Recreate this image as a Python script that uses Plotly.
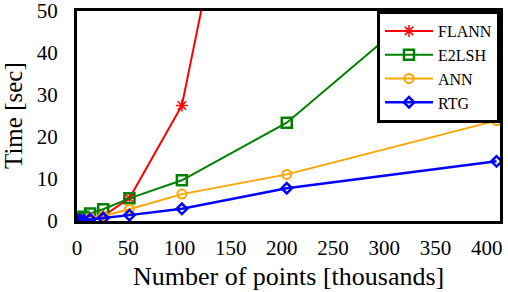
import plotly.graph_objects as go

x_points = [1.6, 3.2, 6.4, 12.8, 25.6, 51.2, 102.4, 204.8, 409.6]
flann = [0.1, 0.2, 0.4, 0.6, 1.2, 5.4, 27.5, 150.0, 600.0]
e2lsh = [0.4, 0.6, 1.0, 1.8, 2.8, 5.4, 9.7, 23.4, 65.7]
ann = [0.1, 0.2, 0.4, 0.7, 1.2, 2.8, 6.4, 11.1, 23.9]
rtg = [0.05, 0.1, 0.2, 0.4, 0.7, 1.4, 2.9, 7.8, 14.2]

x_ticks = [0, 50, 100, 150, 200, 250, 300, 350, 400]
y_ticks = [0, 10, 20, 30, 40, 50]

font = "'Times New Roman', 'Liberation Serif', 'DejaVu Serif', serif"

fig = go.Figure()
fig.add_trace(go.Scatter(x=x_points, y=flann, name="FLANN", mode="lines+markers",
                         line=dict(color="#ff0000", width=2),
                         marker=dict(symbol="asterisk-open", size=10, line=dict(color="#ff0000", width=1.5))))
fig.add_trace(go.Scatter(x=x_points, y=e2lsh, name="E2LSH", mode="lines+markers",
                         line=dict(color="#008000", width=2),
                         marker=dict(symbol="square-open", size=10, color="#008000", line=dict(color="#008000", width=2.5))))
fig.add_trace(go.Scatter(x=x_points, y=ann, name="ANN", mode="lines+markers",
                         line=dict(color="#ffa500", width=2),
                         marker=dict(symbol="circle-open", size=9, color="#ffa500", line=dict(color="#ffa500", width=2))))
fig.add_trace(go.Scatter(x=x_points, y=rtg, name="RTG", mode="lines+markers",
                         line=dict(color="#0000ff", width=2.5),
                         marker=dict(symbol="diamond-open", size=8, color="#0000ff", line=dict(color="#0000ff", width=2.5))))

fig.update_layout(
    width=508, height=292,
    margin=dict(l=77, r=8, t=11, b=71, autoexpand=False),
    paper_bgcolor="white", plot_bgcolor="white",
    font=dict(family=font, size=20, color="black"),
    showlegend=True,
    legend=dict(x=1, y=1, xanchor="right", yanchor="top",
                bgcolor="white", bordercolor="black", borderwidth=3,
                font=dict(family=font, size=16), tracegroupgap=0,
                itemwidth=48),
    xaxis=dict(range=[0, 413], tickvals=x_ticks, ticks="", showgrid=False, zeroline=False,
               showline=True, linecolor="black", linewidth=3, mirror=True,
               tickfont=dict(family=font, size=21), ticklabelstandoff=6, automargin=False,
               ticklabeloverflow="allow"),
    yaxis=dict(range=[0, 50], tickvals=y_ticks, ticks="", showgrid=False, zeroline=False,
               showline=True, linecolor="black", linewidth=3, mirror=True,
               tickfont=dict(family=font, size=21), ticklabelstandoff=12, automargin=False,
               ticklabeloverflow="allow"),
    annotations=[
        dict(text="Number of points [thousands]", xref="paper", yref="paper", x=0.5, y=0,
             xanchor="center", yanchor="bottom", yshift=-71, showarrow=False, borderpad=0,
             font=dict(family=font, size=26)),
        dict(text="Time [sec]", xref="paper", yref="paper", x=0, y=0.5,
             xanchor="center", yanchor="middle", xshift=-64, textangle=-90, showarrow=False,
             borderpad=0, font=dict(family=font, size=25)),
    ],
)

fig.write_html("out.html", config={"displayModeBar": False},
               post_script="document.body.style.margin='0';document.body.style.padding='0';")
